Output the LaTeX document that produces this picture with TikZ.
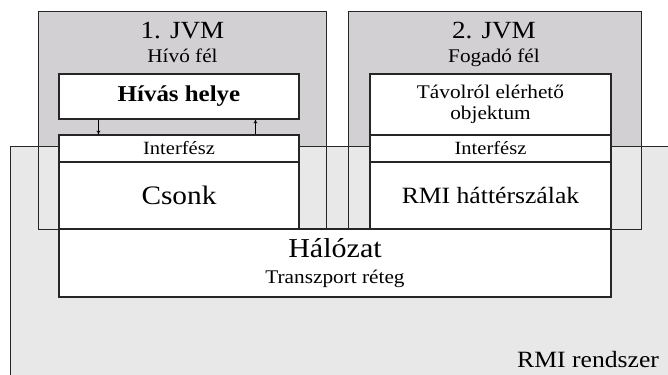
\documentclass[tikz,border=0pt]{standalone}
\usepackage{fontspec}
\setmainfont{Liberation Serif}[FakeStretch=1.1]
\usetikzlibrary{arrows.meta}

\definecolor{jvmgray}{RGB}{211,208,211}
\definecolor{sysgray}{RGB}{232,232,232}

\tikzset{
  layerbox/.style={draw=black!85, fill=white, inner sep=0pt, align=center},
  jvmbox/.style={fill=jvmgray, inner sep=0pt, minimum height=162.75pt},
  callarrow/.style={-{To[length=3pt,width=3pt]}, line width=0.5pt},
}

\begin{document}
\begin{tikzpicture}[x=0.75pt, y=-0.75pt, line width=0.8pt]
  \clip (0,0) rectangle (668,375);
  \fill[white] (0,0) rectangle (668,375);

  % the two virtual machines (background)
  \node[jvmbox, minimum width=215.25pt] (jvm1) at (182.5,120.5) {};
  \node[jvmbox, minimum width=219pt] (jvm2) at (495,120.5) {};

  % RMI system, runs off the page to the right and bottom
  \draw[draw=black!85, fill=sysgray] (11,400) -- (11,147) -- (700,147);
  \fill[sysgray] (11.4,147.4) rectangle (700,400);
  \draw[draw=black!85] (jvm1.north west) rectangle (jvm1.south east);
  \draw[draw=black!85] (jvm2.north west) rectangle (jvm2.south east);

  \node[anchor=base, font=\fontsize{18.5}{20}\selectfont] (title1) at (182.5,38) {1. JVM};
  \node[anchor=base, font=\fontsize{14.5}{16}\selectfont] (sub1) at (182.5,62) {Hívó fél};
  \node[anchor=base, font=\fontsize{18.5}{20}\selectfont] (title2) at (494,38) {2. JVM};
  \node[anchor=base, font=\fontsize{14.5}{16}\selectfont] (sub2) at (494,62) {Fogadó fél};

  % caller side
  \node[layerbox, minimum width=180pt, minimum height=33.75pt,
        font=\bfseries\fontsize{17}{19}\selectfont] (hivas) at (179,96.5) {Hívás helye};
  \node[layerbox, minimum width=180pt, minimum height=20.25pt,
        font=\fontsize{14}{16}\selectfont] (interf1) at (179,148.5) {Interfész};
  \node[layerbox, minimum width=180pt, minimum height=50.25pt,
        font=\fontsize{20}{22}\selectfont] (csonk) at (179,195.5) {Csonk};

  % receiver side
  \node[layerbox, minimum width=180.75pt, minimum height=45.75pt,
        font=\fontsize{14.5}{15.5}\selectfont] (tavol) at (490.5,104.5) {Távolról elérhető\\objektum};
  \node[layerbox, minimum width=180.75pt, minimum height=20.25pt,
        font=\fontsize{14}{16}\selectfont] (interf2) at (490.5,148.5) {Interfész};
  \node[layerbox, minimum width=180.75pt, minimum height=50.25pt,
        font=\fontsize{17.5}{20}\selectfont] (hatter) at (490.5,195.5) {RMI háttérszálak};

  % network
  \node[layerbox, minimum width=414pt, minimum height=51pt,
        font=\fontsize{14.5}{20}\selectfont] (halozat) at (335,263)
    {{\fontsize{20.5}{22}\selectfont Hálózat}\\Transzport réteg};

  \node[anchor=base east, font=\fontsize{17.5}{20}\selectfont] (rmi) at (664,367) {RMI rendszer};

  % calls through the interface
  \draw[callarrow] ([xshift=30pt]hivas.south west) -- ([xshift=30pt]interf1.north west);
  \draw[callarrow] ([xshift=147.75pt]interf1.north west) -- ([xshift=147.75pt]hivas.south west);
\end{tikzpicture}
\end{document}
